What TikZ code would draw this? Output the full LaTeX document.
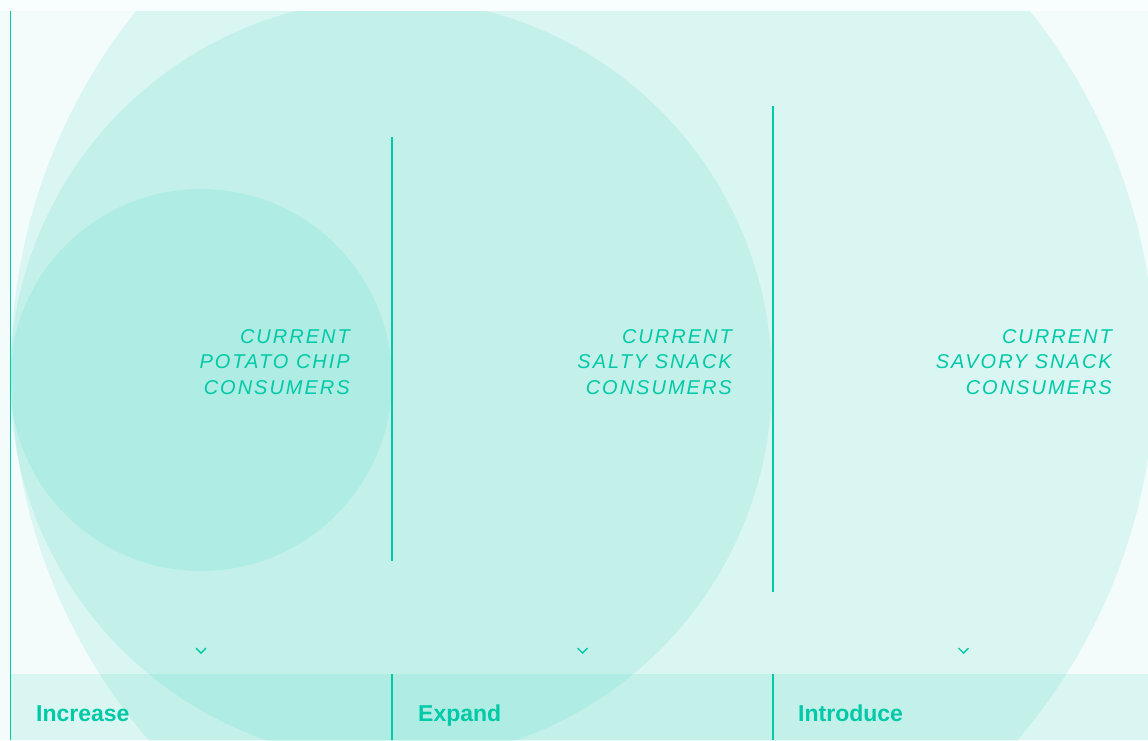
\documentclass[tikz,border=0pt]{standalone}
\usepackage{fontspec}
\setmainfont{Liberation Sans}
\definecolor{mint}{HTML}{00C9A7}
\definecolor{haze}{HTML}{F3FCFB}
\definecolor{topband}{HTML}{F8FEFD}

\begin{document}
\begin{tikzpicture}[
    x=1pt, y=-1pt,
    ring/.style={fill=mint, fill opacity=0.1},
    divider/.style={draw=mint, line width=1.2pt},
    chevron/.style={draw=mint, line width=1.4pt},
    group/.style={anchor=north east, inner sep=0pt, align=right, text=mint,
        font=\fontsize{20}{25.5}\selectfont\itshape\addfontfeature{LetterSpace=10}},
    action/.style={anchor=base west, inner sep=0pt, text=mint,
        font=\fontsize{23}{27}\selectfont\bfseries}
]
\useasboundingbox (0,0) rectangle (1148,740);

% Background
\fill[haze] (0,0) rectangle (1148,740);

% Nested audiences
\begin{scope}
\clip (0,11) rectangle (1148,740);
\fill[ring] (583,368) circle[radius=572];
\fill[ring] (391,380) circle[radius=381];
\fill[ring] (201,380) circle[radius=191];
% Action strip
\fill[ring] (10,674) rectangle (1148,740);
\end{scope}
\fill[topband] (0,0) rectangle (1148,11);

% Column lines
\draw[mint, line width=1.8pt] (10.5,11) -- (10.5,740);
\draw[divider] (392,137) -- (392,561);
\draw[divider] (773,106) -- (773,592);
\draw[divider] (392,674) -- (392,740);
\draw[divider] (773,674) -- (773,740);

% Audience labels
\foreach \i/\x/\txt in {1/350/POTATO CHIP, 2/732/SALTY SNACK, 3/1112/SAVORY SNACK}
    \node[group] (group\i) at (\x,329) {CURRENT\\\txt\\CONSUMERS};

% Chevrons
\foreach \x in {201,582.5,963.5}
    \draw[chevron] (\x-5,648) -- (\x,653) -- (\x+5,648);

% Actions
\node[action] (increase) at (36,721) {Increase};
\node[action] (expand) at (418,721) {Expand};
\node[action] (introduce) at (798,721) {Introduce};

\end{tikzpicture}
\end{document}
